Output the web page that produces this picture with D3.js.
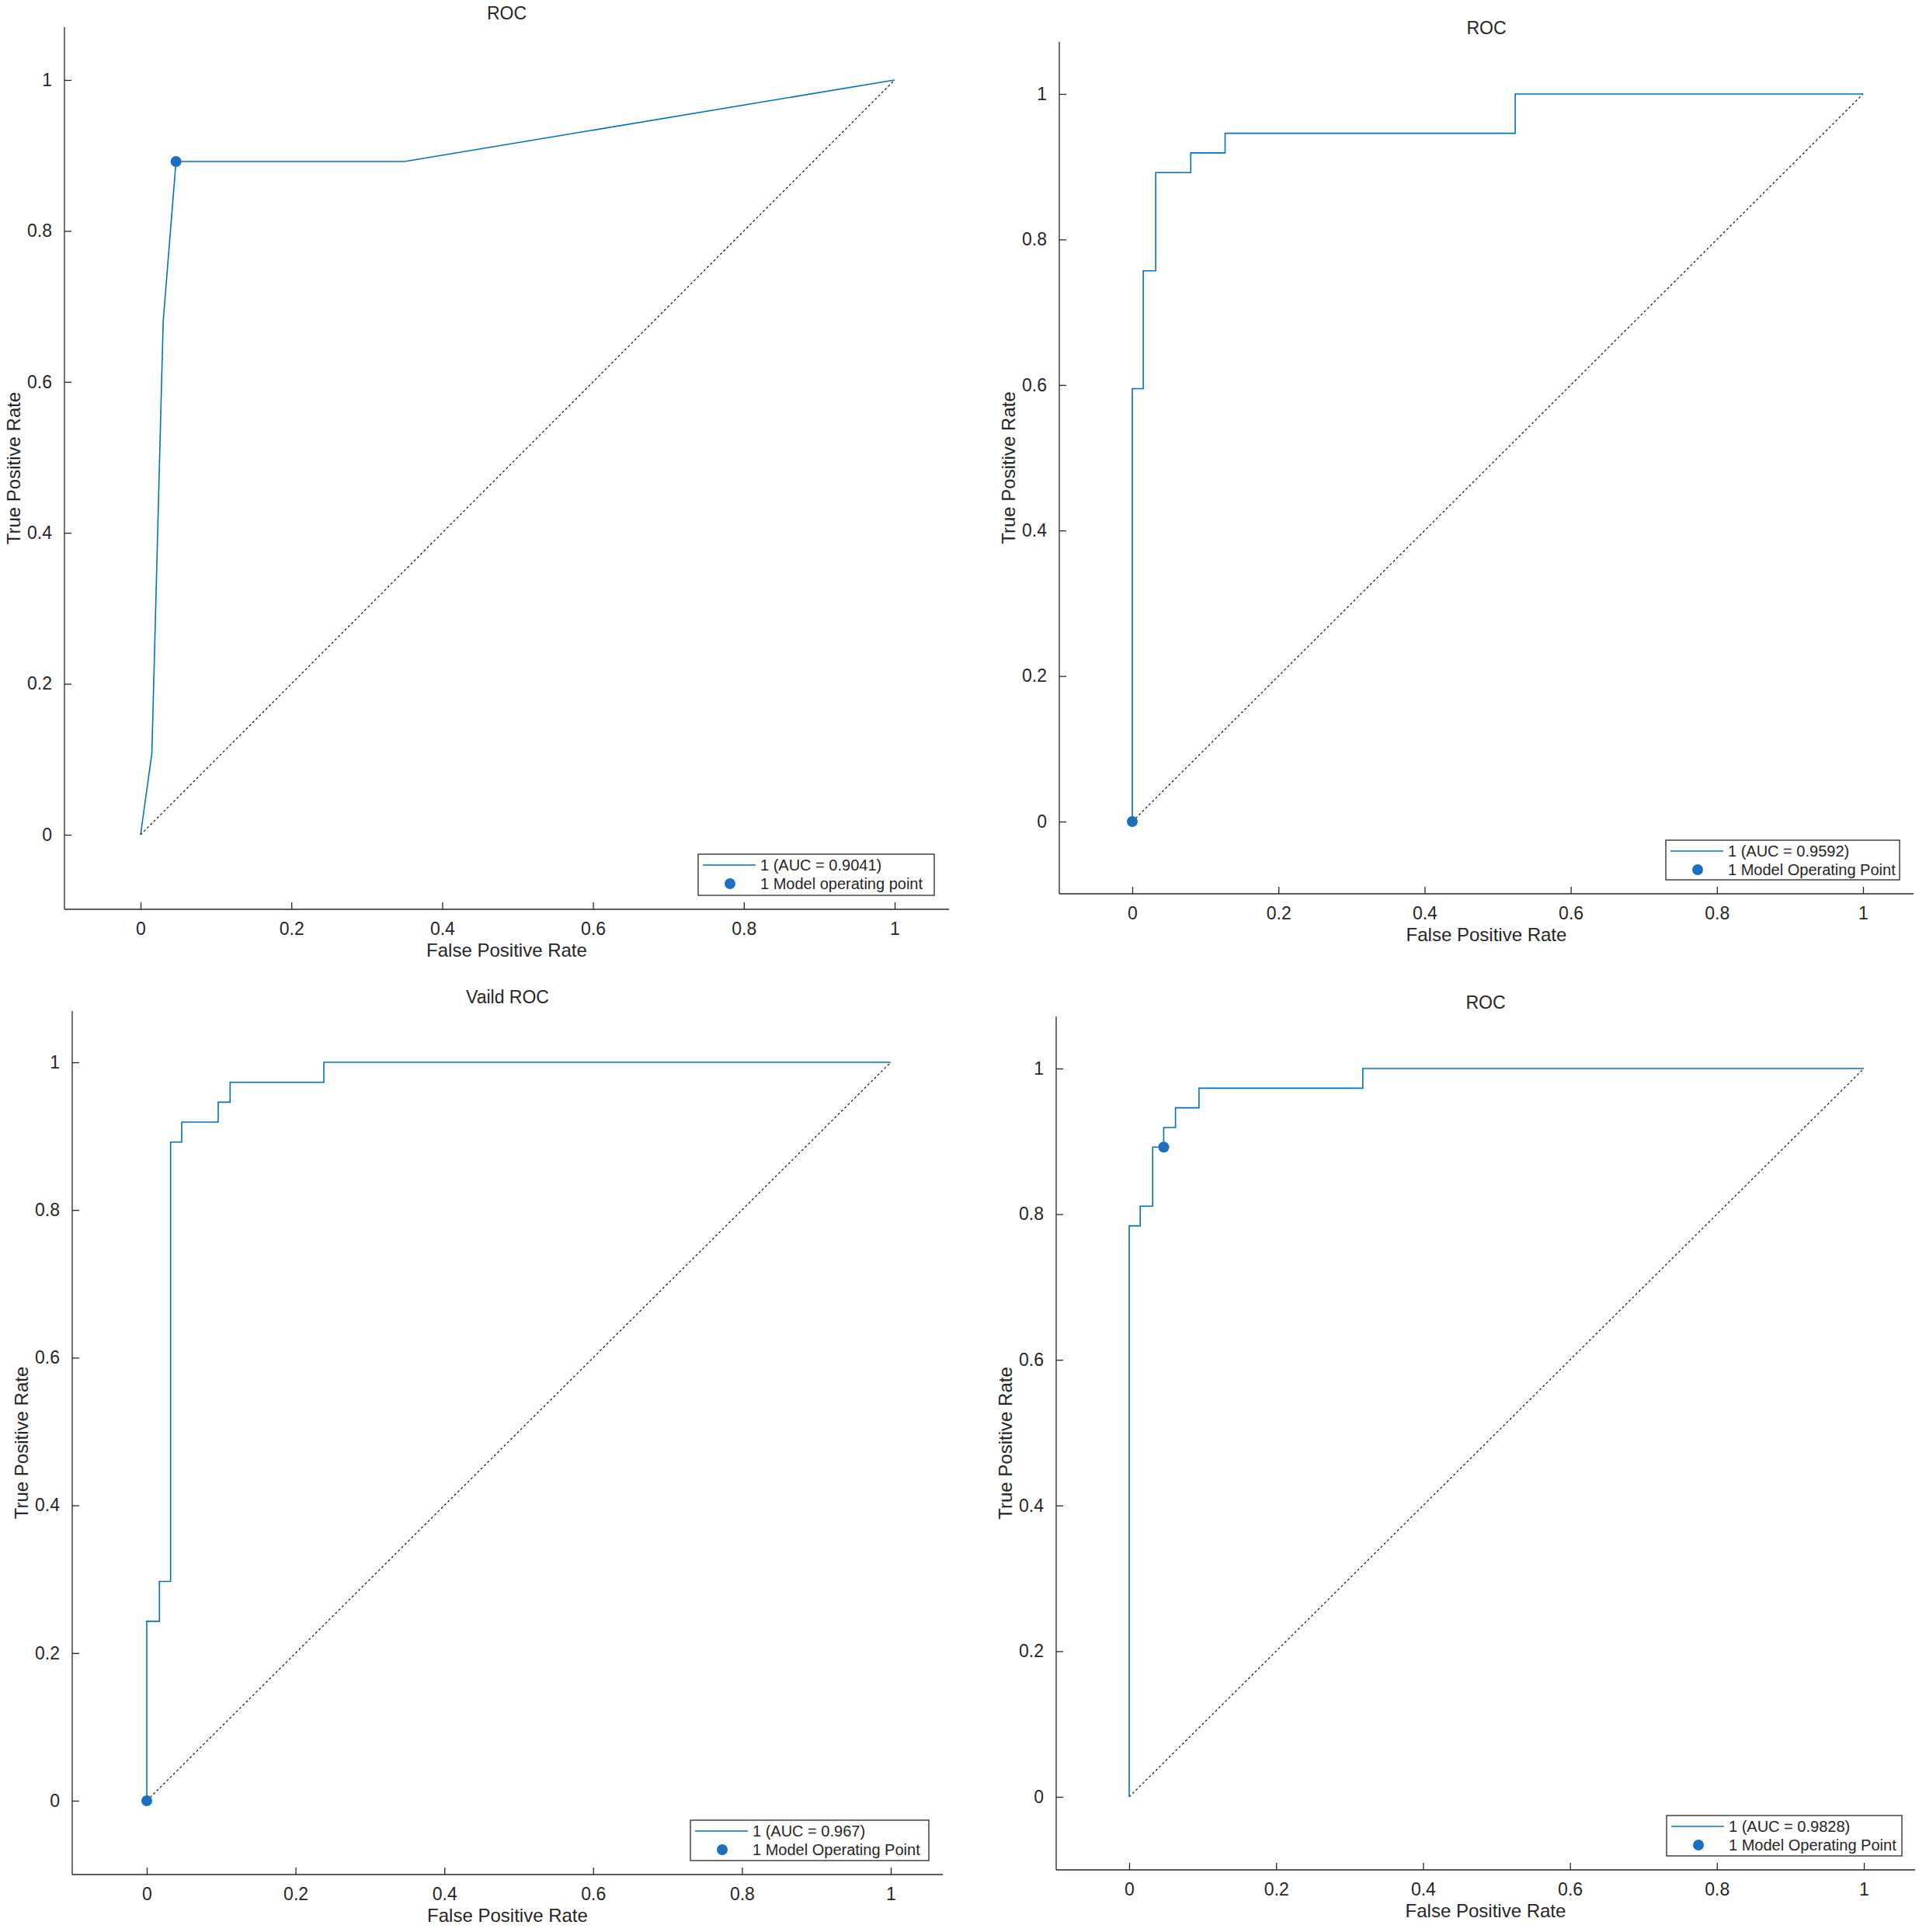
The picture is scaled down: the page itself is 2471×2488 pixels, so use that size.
<!DOCTYPE html>
<html><head><meta charset="utf-8">
<script src="https://cdn.jsdelivr.net/npm/d3@7"></script>
<style>body{margin:0;background:#fff}text{font-family:Arial,"Liberation Sans",sans-serif;fill:#262626}</style>
</head><body><svg id="fig" width="2471" height="2488"></svg>
<script>
// ROC data
const titles = ["ROC", "ROC", "Vaild ROC", "ROC"];
const aucLabels = ["1 (AUC = 0.9041)", "1 (AUC = 0.9592)", "1 (AUC = 0.967)", "1 (AUC = 0.9828)"];
const pointLabels = ["1 Model operating point", "1 Model Operating Point", "1 Model Operating Point", "1 Model Operating Point"];
const fpr1 = [0, 0.015, 0.03, 0.047, 0.35, 1];
const tpr1 = [0, 0.108, 0.68, 0.892, 0.892, 1];
const fpr2 = [0, 0, 0.015, 0.015, 0.032, 0.032, 0.08, 0.08, 0.127, 0.127, 0.524, 0.524, 1];
const tpr2 = [0, 0.595, 0.595, 0.757, 0.757, 0.892, 0.892, 0.919, 0.919, 0.946, 0.946, 1, 1];
const fpr3 = [0, 0, 0.017, 0.017, 0.032, 0.032, 0.047, 0.047, 0.096, 0.096, 0.112, 0.112, 0.238, 0.238, 1];
const tpr3 = [0, 0.243, 0.243, 0.297, 0.297, 0.892, 0.892, 0.919, 0.919, 0.946, 0.946, 0.973, 0.973, 1, 1];
const fpr4 = [0, 0, 0.015, 0.015, 0.032, 0.032, 0.047, 0.047, 0.063, 0.063, 0.095, 0.095, 0.318, 0.318, 1];
const tpr4 = [0, 0.784, 0.784, 0.811, 0.811, 0.892, 0.892, 0.919, 0.919, 0.946, 0.946, 0.973, 0.973, 1, 1];
const opPoints = [[0.047, 0.892], [0, 0], [0, 0], [0.047, 0.892]];
const ticks = [0, 0.2, 0.4, 0.6, 0.8, 1];

const curves = [[fpr1, tpr1], [fpr2, tpr2], [fpr3, tpr3], [fpr4, tpr4]];
// axes boxes: left, right, top, bottom in pixels
const boxes = [
  {l: 83, r: 1222, t: 35, b: 1171, x0: 181, x1: 1152, y0: 1075, y1: 103, leg: [899, 1100, 304, 53]},
  {l: 1364, r: 2464, t: 54, b: 1151, x0: 1458, x1: 2399, y0: 1058, y1: 121, leg: [2145, 1082, 301, 51]},
  {l: 93, r: 1214, t: 1302, b: 2414, x0: 189, x1: 1147, y0: 2319, y1: 1368, leg: [889, 2344, 307, 52]},
  {l: 1360, r: 2466, t: 1309, b: 2408, x0: 1454, x1: 2400, y0: 2314, y1: 1376, leg: [2146, 2338, 303, 52]}
];
const blue = "#0072BD";
const svg = d3.select("#fig");

boxes.forEach((bx, i) => {
  const x = d3.scaleLinear().domain([0, 1]).range([bx.x0, bx.x1]);
  const y = d3.scaleLinear().domain([0, 1]).range([bx.y0, bx.y1]);
  const g = svg.append("g");

  // diagonal reference
  g.append("line")
    .attr("x1", x(0)).attr("y1", y(0)).attr("x2", x(1)).attr("y2", y(1))
    .attr("stroke", "#222").attr("stroke-width", 1.3).attr("stroke-dasharray", "3,3");

  const pts = curves[i][0].map((v, k) => [v, curves[i][1][k]]);
  g.append("path")
    .attr("d", d3.line().x(d => x(d[0])).y(d => y(d[1]))(pts))
    .attr("fill", "none").attr("stroke", blue).attr("stroke-width", 1.6);

  g.append("circle")
    .attr("cx", x(opPoints[i][0])).attr("cy", y(opPoints[i][1])).attr("r", 7)
    .attr("fill", "#1a6fc0");

  const xAx = g.append("g").attr("transform", `translate(0,${bx.b})`)
    .call(d3.axisBottom(x).tickValues(ticks).tickFormat(d3.format("~g")).tickSizeInner(-9).tickSizeOuter(0).tickPadding(17));
  xAx.select(".domain").attr("d", `M${bx.l},0H${bx.r}`);
  const yAx = g.append("g").attr("transform", `translate(${bx.l},0)`)
    .call(d3.axisLeft(y).tickValues(ticks).tickFormat(d3.format("~g")).tickSizeInner(-9).tickSizeOuter(0).tickPadding(16));
  yAx.select(".domain").attr("d", `M0,${bx.t}V${bx.b}`);
  g.selectAll(".tick text").attr("font-size", 23).style("fill", "#262626");
  g.selectAll(".domain, .tick line").attr("stroke", "#262626").attr("stroke-width", 1.3);

  const cx = (bx.l + bx.r) / 2;
  g.append("text").attr("x", cx).attr("y", bx.t - 10).attr("text-anchor", "middle")
    .attr("font-size", 23).text(titles[i]);
  g.append("text").attr("x", cx).attr("y", bx.b + 61).attr("text-anchor", "middle")
    .attr("font-size", 24).text("False Positive Rate");
  g.append("text").attr("transform", `translate(${bx.l - 57},${(bx.t + bx.b) / 2}) rotate(-90)`)
    .attr("text-anchor", "middle").attr("font-size", 24).text("True Positive Rate");

  // legend
  const [lx, ly, lw, lh] = bx.leg;
  const lg = g.append("g");
  lg.append("rect").attr("x", lx).attr("y", ly).attr("width", lw).attr("height", lh)
    .attr("fill", "#fff").attr("stroke", "#262626").attr("stroke-width", 1.3);
  lg.append("line").attr("x1", lx + 6).attr("x2", lx + 74).attr("y1", ly + 14).attr("y2", ly + 14)
    .attr("stroke", blue).attr("stroke-width", 1.3);
  lg.append("circle").attr("cx", lx + 41).attr("cy", ly + 38).attr("r", 7).attr("fill", "#1a6fc0");
  lg.append("text").attr("x", lx + 80).attr("y", ly + 21).attr("font-size", 20).text(aucLabels[i]);
  lg.append("text").attr("x", lx + 80).attr("y", ly + 45).attr("font-size", 20).text(pointLabels[i]);
});
</script></body></html>
